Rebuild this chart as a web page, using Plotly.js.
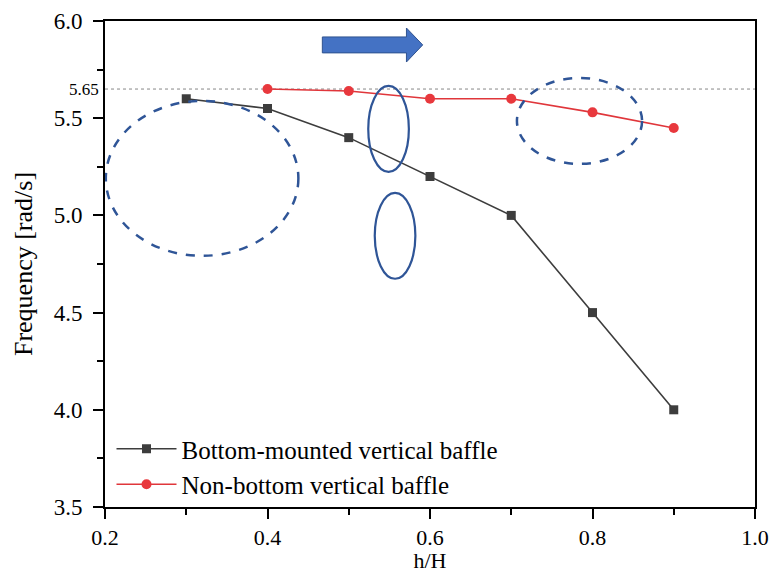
<!DOCTYPE html>
<html><head><meta charset="utf-8">
<script src="https://cdn.plot.ly/plotly-3.0.1.min.js"></script>
<style>html,body{margin:0;padding:0;background:#fff}</style>
</head><body><div id="chart" style="width:772px;height:573px"></div>
<script>
const hH_bottom = [0.3, 0.4, 0.5, 0.6, 0.7, 0.8, 0.9];
const freq_bottom = [5.60, 5.55, 5.40, 5.20, 5.00, 4.50, 4.00];
const hH_nonbottom = [0.4, 0.5, 0.6, 0.7, 0.8, 0.9];
const freq_nonbottom = [5.65, 5.64, 5.60, 5.60, 5.53, 5.45];
const refLevel = 5.65;
const name_bottom = "Bottom-mounted vertical baffle";
const name_nonbottom = "Non-bottom vertical baffle";

const serif = "Liberation Serif";
const traces = [
  {x: hH_bottom, y: freq_bottom, name: name_bottom, mode: "lines+markers", type: "scatter",
   line: {color: "#3d3d3d", width: 1.6}, marker: {symbol: "square", size: 9, color: "#3d3d3d"}},
  {x: hH_nonbottom, y: freq_nonbottom, name: name_nonbottom, mode: "lines+markers", type: "scatter",
   line: {color: "#e0363b", width: 1.6}, marker: {symbol: "circle", size: 10, color: "#e8383d"}}
];
const blue = "#2F5597";
const layout = {
  width: 772, height: 573,
  margin: {l: 105, r: 17, t: 21, b: 66},
  paper_bgcolor: "#fff", plot_bgcolor: "#fff",
  font: {family: serif, color: "#000", size: 22},
  showlegend: true,
  legend: {x: 0.01, y: 0.0, xanchor: "left", yanchor: "bottom", bgcolor: "rgba(0,0,0,0)",
           itemwidth: 60, font: {family: serif, size: 25, color: "#000"}, tracegroupgap: 0},
  xaxis: {range: [0.2, 1.0], dtick: 0.2, tick0: 0.2, tickformat: ".1f", showgrid: false, zeroline: false,
          showline: true, linecolor: "#000", linewidth: 2, mirror: true,
          ticks: "outside", ticklen: 10, tickwidth: 2, tickcolor: "#000", ticklabelstandoff: 0,
          minor: {dtick: 0.1, ticks: "outside", ticklen: 6, tickwidth: 2, tickcolor: "#000", showgrid: false},
          tickfont: {family: serif, size: 22, color: "#000"},
          title: {text: "h/H", font: {family: serif, size: 22, color: "#000"}, standoff: 3}},
  yaxis: {range: [3.5, 6.0], dtick: 0.5, tick0: 3.5, tickformat: ".1f", showgrid: false, zeroline: false,
          showline: true, linecolor: "#000", linewidth: 2, mirror: true,
          ticks: "outside", ticklen: 10, tickwidth: 2, tickcolor: "#000", ticklabelstandoff: 6,
          minor: {dtick: 0.25, ticks: "outside", ticklen: 6, tickwidth: 2, tickcolor: "#000", showgrid: false},
          tickfont: {family: serif, size: 23, color: "#000"},
          title: {text: "Frequency [rad/s]", font: {family: serif, size: 26, color: "#000"}, standoff: 14}},
  shapes: [
    {type: "line", xref: "paper", x0: 0, x1: 1, yref: "y", y0: refLevel, y1: refLevel,
     line: {color: "#888", width: 1, dash: "dot"}, layer: "below"},
    {type: "circle", xref: "x", yref: "y", x0: 0.201, x1: 0.438, y0: 4.792, y1: 5.589,
     line: {color: blue, width: 2.5, dash: "dash"}},
    {type: "circle", xref: "x", yref: "y", x0: 0.707, x1: 0.861, y0: 5.265, y1: 5.707,
     line: {color: blue, width: 2.5, dash: "dash"}},
    {type: "circle", xref: "x", yref: "y", x0: 0.524, x1: 0.574, y0: 5.224, y1: 5.666,
     line: {color: blue, width: 2.2}},
    {type: "circle", xref: "x", yref: "y", x0: 0.532, x1: 0.582, y0: 4.674, y1: 5.116,
     line: {color: blue, width: 2.2}},
    {type: "path", xref: "x", yref: "y",
     path: "M 0.4675 5.918 L 0.571 5.918 L 0.571 5.964 L 0.591 5.877 L 0.571 5.789 L 0.571 5.836 L 0.4675 5.836 Z",
     fillcolor: "#4472C4", line: {color: "#2F528F", width: 1}}
  ],
  annotations: [
    {xref: "paper", x: 0, xanchor: "right", xshift: -4, yref: "y", y: refLevel, yanchor: "middle",
     text: "5.65", showarrow: false, font: {family: serif, size: 17, color: "#000"}}
  ]
};
Plotly.newPlot("chart", traces, layout, {displayModeBar: false, staticPlot: true});
</script></body></html>
